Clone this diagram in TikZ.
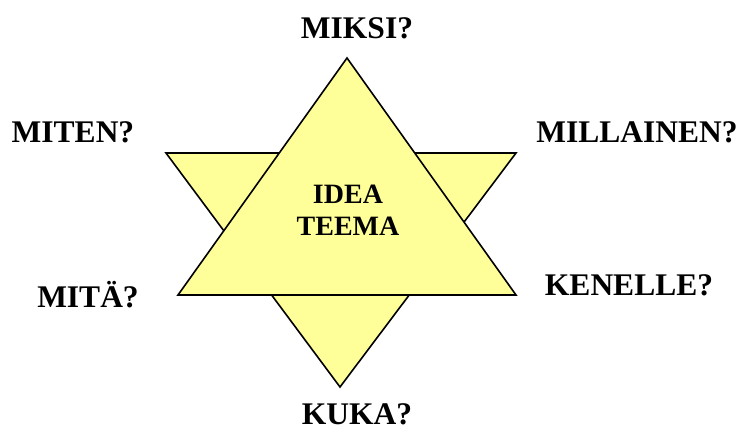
\documentclass[tikz,border=0pt]{standalone}
\usepackage{fontspec}
\setmainfont{Liberation Serif}
\usetikzlibrary{positioning}
\definecolor{staryellow}{RGB}{255,255,153}

\begin{document}
\begin{tikzpicture}[x=1pt, y=-1pt,
	triangle/.style={draw, line width=1.6pt, fill=staryellow, line join=miter},
	question/.style={font=\fontsize{31.5}{34}\selectfont\bfseries, anchor=base, inner sep=0pt},
	centre/.style={font=\fontsize{28}{32}\selectfont\bfseries, align=center}
	]
	\useasboundingbox (0,0) rectangle (743,428);
	% downward triangle
	\draw[triangle] (166,153) -- (516,153) -- (340,387) -- cycle;
	% upward triangle on top
	\draw[triangle] (347,58) -- (516,295) -- (178,295) -- cycle;
	\node[centre] (idea) at (348,210) {IDEA\\ TEEMA};
	
	\node[question] (miksi) at (357,38) {MIKSI?};
	\node[question] (miten) at (73,142) {MITEN?};
	\node[question] (millainen) at (637,142) {MILLAINEN?};
	\node[question] (mita) at (88,307) {MITÄ?};
	\node[question] (kenelle) at (629,295) {KENELLE?};
	\node[question] (kuka) at (357,424) {KUKA?};
\end{tikzpicture}
\end{document}
